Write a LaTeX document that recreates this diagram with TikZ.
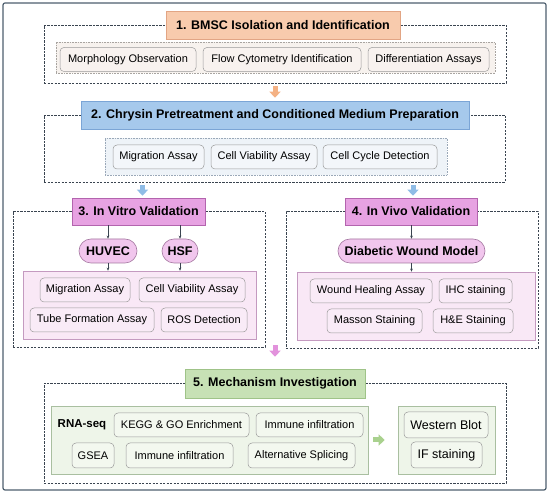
\documentclass[tikz,border=0pt]{standalone}
\usepackage{fontspec}
\setmainfont{Liberation Sans}
\usetikzlibrary{arrows.meta}
\definecolor{outerc}{HTML}{4E5F6E}
\definecolor{framec}{HTML}{3A4450}
\definecolor{t1fill}{HTML}{F8CBAD}\definecolor{t1draw}{HTML}{E2A584}
\definecolor{t2fill}{HTML}{A6C9EC}\definecolor{t2draw}{HTML}{7BA5D6}
\definecolor{t3fill}{HTML}{E7A2E2}\definecolor{t3draw}{HTML}{B364AE}
\definecolor{t5fill}{HTML}{C7E1B5}\definecolor{t5draw}{HTML}{9FC388}
\definecolor{g1fill}{HTML}{F7F2EE}\definecolor{g1draw}{HTML}{A8A4A0}
\definecolor{g2fill}{HTML}{EEF3F8}\definecolor{g2draw}{HTML}{9AA8B8}
\definecolor{g3fill}{HTML}{F9E8F6}\definecolor{g3draw}{HTML}{C49AC0}
\definecolor{g5fill}{HTML}{EEF5E9}\definecolor{g5draw}{HTML}{A9BFA0}
\definecolor{i1fill}{HTML}{F8F2EF}
\definecolor{i2fill}{HTML}{F3F6FA}
\definecolor{i3fill}{HTML}{F9EBF7}
\definecolor{i5fill}{HTML}{F3F8EF}
\definecolor{itemc}{HTML}{9A9A9A}
\definecolor{pillfill}{HTML}{F1C6ED}\definecolor{pilldraw}{HTML}{A577A1}
\definecolor{arrO}{HTML}{F4B183}
\definecolor{arrB}{HTML}{8FBCE6}
\definecolor{arrP}{HTML}{E292DC}
\definecolor{arrG}{HTML}{A9D18E}
\tikzset{
  frame/.style={draw=framec, line width=0.8pt, dash pattern=on 2.2pt off 1.3pt, inner sep=0pt},
  title/.style={draw, line width=0.6pt, font=\fontsize{12.5}{14}\selectfont\bfseries, minimum height=28pt, inner sep=0pt},
  grp/.style={line width=0.6pt, inner sep=0pt},
  item/.style={draw=itemc, rounded corners=4pt, line width=0.5pt, minimum height=24pt, inner sep=0pt, font=\fontsize{11}{13}\selectfont},
  pill/.style={draw=pilldraw, fill=pillfill, line width=0.6pt, rounded corners=12pt, minimum height=24pt, inner sep=0pt, font=\fontsize{12.5}{14}\selectfont\bfseries},
  bigarrow/.style={line width=5pt, -{Triangle[width=11pt,length=6pt]}, draw=#1},
  smallarrow/.style={draw=framec, line width=0.5pt, -{Stealth[length=3pt,width=2.6pt]}}
}
\begin{document}
\begin{tikzpicture}[x=1pt,y=-1pt]
\useasboundingbox (0,0) rectangle (550,494);
\draw[outerc, line width=1.2pt, fill=white, rounded corners=2pt] (3,3) rectangle (546,490);

% dashed frames
\node[frame, minimum width=462pt, minimum height=58pt] (f1) at (275,54) {};
\node[frame, minimum width=461pt, minimum height=67pt] (f2) at (274.5,148.5) {};
\node[frame, minimum width=252pt, minimum height=135.5pt] (f3) at (139,279.25) {};
\node[frame, minimum width=252pt, minimum height=136.5pt] (f4) at (412,279.75) {};
\node[frame, minimum width=462pt, minimum height=99.5pt] (f5) at (275,433.25) {};

% titles
\node[title, draw=t1draw, fill=t1fill, minimum width=234pt] (t1) at (283,25) {1. BMSC Isolation and Identification};
\node[title, draw=t2draw, fill=t2fill, minimum width=388pt] (t2) at (275,115) {2. Chrysin Pretreatment and Conditioned Medium Preparation};
\node[title, draw=t3draw, fill=t3fill, minimum width=133pt, minimum height=27pt] (t3) at (138.5,211.5) {3. In Vitro Validation};
\node[title, draw=t3draw, fill=t3fill, minimum width=132pt, minimum height=27pt] (t4) at (411,211.5) {4. In Vivo Validation};
\node[title, draw=t5draw, fill=t5fill, minimum width=180pt, minimum height=29pt] (t5) at (275,383.5) {5. Mechanism Investigation};

% section 1
\node[grp, draw=g1draw, densely dotted, fill=g1fill, minimum width=439pt, minimum height=31pt] (g1) at (275.5,57.5) {};
\node[item, fill=i1fill, minimum width=136pt] (m1) at (128,59.5) {Morphology Observation};
\node[item, fill=i1fill, minimum width=158pt] (m2) at (282,59.5) {Flow Cytometry Identification};
\node[item, fill=i1fill, minimum width=121pt] (m3) at (428.5,59.5) {Differentiation Assays};

% section 2
\node[grp, draw=g2draw, densely dotted, fill=g2fill, minimum width=342pt, minimum height=37pt] (g2) at (276,156.5) {};
\node[item, fill=i2fill, minimum width=91pt] (c1) at (158.5,157) {Migration Assay};
\node[item, fill=i2fill, minimum width=106pt] (c2) at (264,157) {Cell Viability Assay};
\node[item, fill=i2fill, minimum width=114pt] (c3) at (380,157) {Cell Cycle Detection};

% section 3
\node[pill, minimum width=58pt] (hv) at (108,251) {HUVEC};
\node[pill, minimum width=36pt] (hs) at (180,251) {HSF};
\node[grp, draw=g3draw, fill=g3fill, minimum width=233pt, minimum height=68pt] (g3) at (139.5,305) {};
\node[item, fill=i3fill, minimum width=90pt] (v1) at (85,290) {Migration Assay};
\node[item, fill=i3fill, minimum width=106pt] (v2) at (192,290) {Cell Viability Assay};
\node[item, fill=i3fill, minimum width=124pt] (v3) at (92,320) {Tube Formation Assay};
\node[item, fill=i3fill, minimum width=86pt] (v4) at (204,320) {ROS Detection};

% section 4
\node[pill, minimum width=147pt] (dw) at (411.5,251) {Diabetic Wound Model};
\node[grp, draw=g3draw, fill=g3fill, minimum width=238pt, minimum height=68pt] (g4) at (416,306) {};
\node[item, fill=i3fill, minimum width=122pt] (w1) at (371,291) {Wound Healing Assay};
\node[item, fill=i3fill, minimum width=73pt] (w2) at (475.5,291) {IHC staining};
\node[item, fill=i3fill, minimum width=95pt] (w3) at (374.5,321) {Masson Staining};
\node[item, fill=i3fill, minimum width=80pt] (w4) at (473,321) {H\&E Staining};

% section 5
\node[grp, draw=g5draw, fill=g5fill, minimum width=317pt, minimum height=68pt] (g5) at (209.5,440) {};
\node[font=\fontsize{11.5}{13}\selectfont\bfseries, inner sep=0pt] (rna) at (82,425) {RNA-seq};
\node[item, fill=i5fill, minimum width=135pt] (r1) at (181.5,425) {KEGG \& GO Enrichment};
\node[item, fill=i5fill, minimum width=107pt] (r2) at (309.5,425) {Immune infiltration};
\node[item, fill=i5fill, minimum width=42pt, minimum height=25pt] (r3) at (93,455.5) {GSEA};
\node[item, fill=i5fill, minimum width=107pt, minimum height=25pt] (r4) at (179.5,455.5) {Immune infiltration};
\node[item, fill=i5fill, minimum width=107pt, minimum height=25pt] (r5) at (301.5,455.5) {Alternative Splicing};
\node[grp, draw=g5draw, fill=g5fill, minimum width=97pt, minimum height=68pt] (g6) at (446.5,440) {};
\node[item, fill=i5fill, minimum width=84pt, minimum height=26pt, font=\fontsize{12.5}{14}\selectfont] (e1) at (446,425) {Western Blot};
\node[item, fill=i5fill, minimum width=71pt, minimum height=26pt, font=\fontsize{12.5}{14}\selectfont] (e2) at (446.5,455) {IF staining};

% block arrows
\draw[bigarrow=arrO, shorten <=3pt, shorten >=3pt] (t2.north |- f1.south) -- (t2.north);
\draw[bigarrow=arrB, shorten <=3pt, shorten >=2pt] ([xshift=4pt]t3.north |- f2.south) -- ([xshift=4pt]t3.north);
\draw[bigarrow=arrB, shorten <=3pt, shorten >=2pt] ([xshift=2pt]t4.north |- f2.south) -- ([xshift=2pt]t4.north);
\draw[bigarrow=arrP, shorten <=-2pt, shorten >=12pt] (t5.north |- f3.south) -- (t5.north);
\draw[line width=5pt, -{Triangle[width=11pt,length=6pt]}, draw=arrG, shorten <=5pt, shorten >=13pt] (g5.east) -- (g6.west);

% small arrows
\draw[smallarrow] (hv.north |- t3.south) -- (hv.north);
\draw[smallarrow] (hs.north |- t3.south) -- (hs.north);
\draw[smallarrow] (hv.south) -- (hv.south |- g3.north);
\draw[smallarrow] (hs.south) -- (hs.south |- g3.north);
\draw[smallarrow] (dw.north |- t4.south) -- (dw.north);
\draw[smallarrow] (dw.south) -- (dw.south |- g4.north);
\end{tikzpicture}
\end{document}
